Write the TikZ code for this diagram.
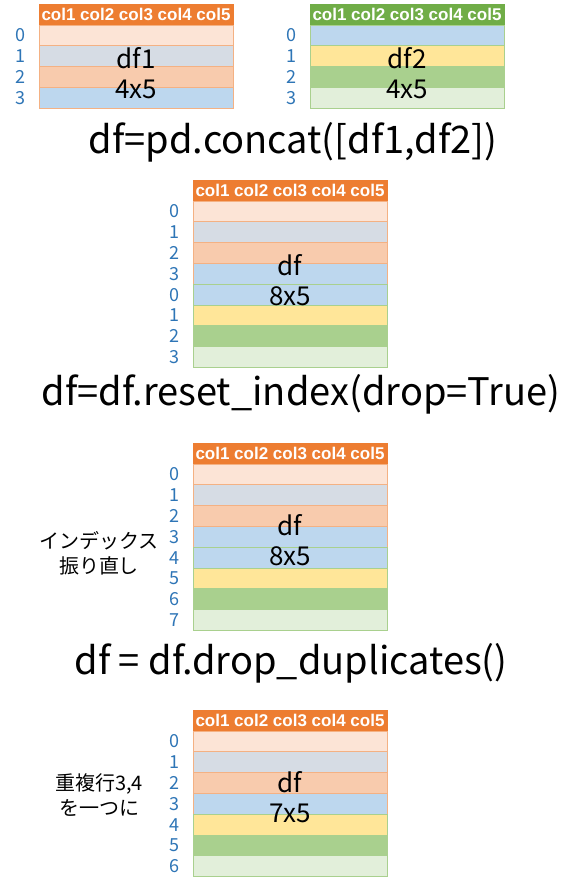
\documentclass[tikz,border=0pt]{standalone}
\usepackage{fontspec}
\setmainfont{Noto Sans CJK JP}
\newfontfamily\hdrfont{Liberation Sans}
\usetikzlibrary{positioning}

\definecolor{hdrorange}{HTML}{ED7D31}
\definecolor{hdrgreen}{HTML}{70AD47}
\definecolor{peachA}{HTML}{FCE4D6}
\definecolor{greyblue}{HTML}{D6DCE4}
\definecolor{peachB}{HTML}{F8CBAD}
\definecolor{paleblue}{HTML}{BDD7EE}
\definecolor{paleyellow}{HTML}{FFE699}
\definecolor{midgreen}{HTML}{A9D08E}
\definecolor{palegreen}{HTML}{E2EFDA}
\definecolor{oline}{HTML}{F4B183}
\definecolor{gline}{HTML}{A9D08E}
\definecolor{idxblue}{HTML}{2E75B6}

\tikzset{
	hdr/.style={minimum width=194pt, minimum height=21pt, inner sep=0pt, outer sep=0pt,
		line width=0.8pt, text=white, font={\hdrfont\bfseries\fontsize{17}{17}\selectfont}},
	dfrow/.style={minimum width=194pt, minimum height=20.8pt, inner sep=0pt, outer sep=0pt,
		line width=0.8pt},
	idx/.style={text=idxblue, font=\fontsize{18}{18}\selectfont},
	dflabel/.style={align=center, font=\fontsize{26}{30}\selectfont},
	title/.style={font=\fontsize{38}{38}\selectfont},
	note/.style={align=center, font=\fontsize{20}{25}\selectfont},
}

% name, top left corner, header colour, rows (fill/border/index)
\newcommand{\dftable}[4]{%
	\node [hdr, fill=#3, draw=#3, anchor=north west] (#1h) at (#2) {col1 col2 col3 col4 col5};
	\foreach \fc/\bc/\lab [count=\n from 0, remember=\n as \prev (initially h)] in {#4} {
		\node [dfrow, fill=\fc, draw=\bc, below=0pt of #1\prev] (#1\n) {};
		\node [idx] (#1i\n) at ([xshift=-19pt]#1\n.west) {\lab};
	}
}

\begin{document}
\begin{tikzpicture}[x=1pt, y=-1pt]

		\useasboundingbox (0, 0) rectangle (586, 887);

		% the two frames
		\dftable{a}{39, 4}{hdrorange}{peachA/oline/0, greyblue/oline/1, peachB/oline/2, paleblue/oline/3}
		\dftable{b}{310, 4}{hdrgreen}{paleblue/gline/0, paleyellow/gline/1, midgreen/gline/2, palegreen/gline/3}
		\node [dflabel] (alab) at (136, 73.5) {df1\\4x5};
		\node [dflabel] (blab) at (407, 73.5) {df2\\4x5};

		\node [title] (concat) at (293, 142) {df=pd.concat([df1,df2])};

		% after concat
		\dftable{c}{193, 180}{hdrorange}{peachA/oline/0, greyblue/oline/1, peachB/oline/2, paleblue/oline/3,
			paleblue/gline/0, paleyellow/gline/1, midgreen/gline/2, palegreen/gline/3}
		\node [dflabel] (clab) at (290, 280.5) {df\\8x5};

		\node [title] (reset) at (301, 394) {df=df.reset\_index(drop=True)};

		% after reset_index
		\dftable{d}{193, 443}{hdrorange}{peachA/oline/0, greyblue/oline/1, peachB/oline/2, paleblue/oline/3,
			paleblue/gline/4, paleyellow/gline/5, midgreen/gline/6, palegreen/gline/7}
		\node [dflabel] (dlab) at (290, 540) {df\\8x5};
		\node [note] (renum) at (99, 553) {インデックス\\振り直し};

		\node [title] (dedup) at (291, 663) {df = df.drop\_duplicates()};

		% after drop_duplicates
		\dftable{e}{193, 710}{hdrorange}{peachA/oline/0, greyblue/oline/1, peachB/oline/2, paleblue/oline/3,
			paleyellow/gline/4, midgreen/gline/5, palegreen/gline/6}
		\node [dflabel] (elab) at (290, 797.5) {df\\7x5};
		\node [note] (merge) at (99, 795) {重複行3,4\\を一つに};

	\end{tikzpicture}
\end{document}
